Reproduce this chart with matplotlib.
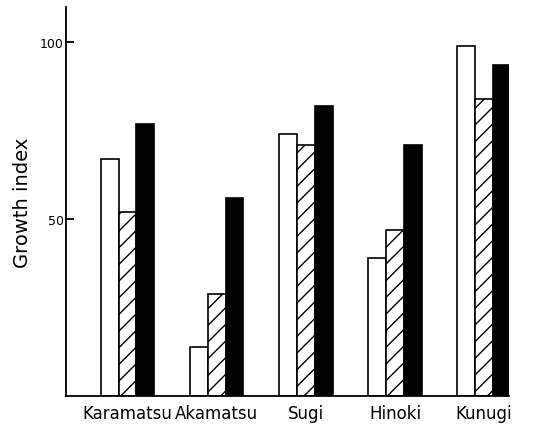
import matplotlib
matplotlib.use("Agg")
import matplotlib.pyplot as plt
import numpy as np

species = ["Karamatsu", "Akamatsu", "Sugi", "Hinoki", "Kunugi"]
open_vals = [67, 14, 74, 39, 99]
hatched_vals = [52, 29, 71, 47, 84]
solid_vals = [77, 56, 82, 71, 93.5]

plt.rcParams["hatch.linewidth"] = 1.0


def main():
    fig = plt.figure(figsize=(5.45, 4.35), dpi=100)
    ax = fig.add_axes([0.122, 0.087, 0.812, 0.895])

    x = np.arange(len(species))
    w = 0.2
    ax.bar(x - w, open_vals, w, color="white", edgecolor="black", linewidth=1.2)
    ax.bar(x, hatched_vals, w, color="white", edgecolor="black", linewidth=1.2, hatch="//")
    ax.bar(x + w, solid_vals, w, color="black", edgecolor="black", linewidth=1.2)

    ax.set_xlim(-0.685, 4.28)
    ax.set_ylim(0, 110)
    ax.set_yticks([50, 100])
    ax.set_yticklabels(["50", "100"], fontsize=9)
    ax.tick_params(axis="y", direction="in", length=6, width=1.3, pad=2)
    ax.set_xticks(x)
    ax.set_xticklabels(species, fontsize=12)
    ax.tick_params(axis="x", length=0, pad=6)
    ax.set_ylabel("Growth index", fontsize=14, labelpad=6)

    for side in ["top", "right"]:
        ax.spines[side].set_visible(False)
    for side in ["left", "bottom"]:
        ax.spines[side].set_linewidth(1.3)

    fig.savefig("out.png", dpi=100)
    plt.close(fig)


if __name__ == "__main__":
    main()
